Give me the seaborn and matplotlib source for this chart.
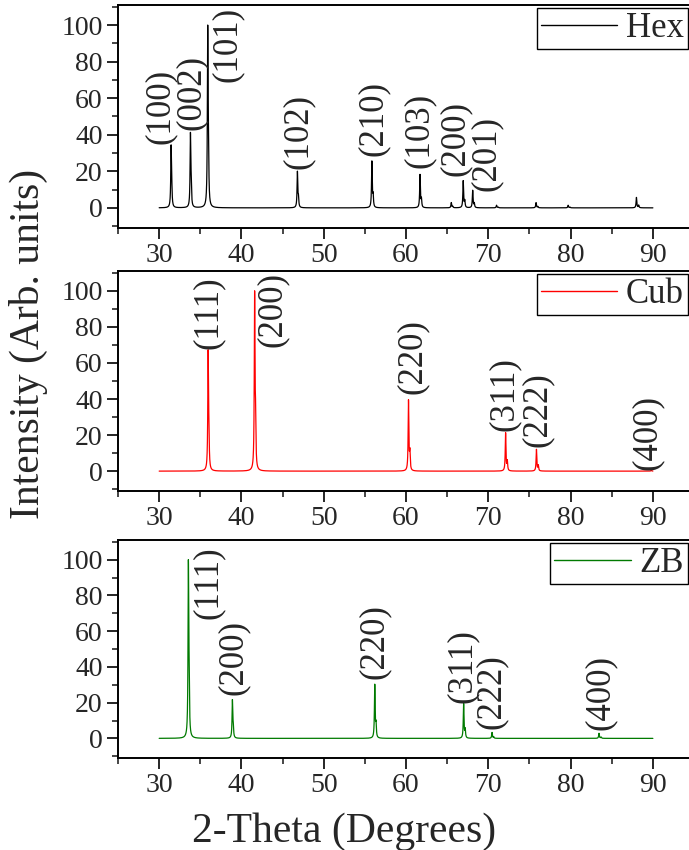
import numpy as np
import pandas as pd
import matplotlib
matplotlib.use("Agg")
import matplotlib.pyplot as plt
from matplotlib.ticker import MultipleLocator
import seaborn as sns

# Reflection positions (2-theta, degrees), relative intensities and Miller indices
hex_pos = [31.45, 33.8, 35.9, 46.8, 55.85, 61.7, 65.5, 66.95, 68.1, 71.0, 75.8, 79.7, 88.0]
hex_int = [34, 41, 100, 20.5, 26.5, 19, 3, 15.5, 10, 1.5, 3, 1.5, 6]
hex_hkl = ["(100)", "(002)", "(101)", "(102)", "(210)", "(103)", "(200)", "(201)"]

cub_pos = [35.95, 41.6, 60.3, 72.1, 75.85, 89.8]
cub_int = [66.5, 100, 40.5, 22, 12.5, 0.5]
cub_hkl = ["(111)", "(200)", "(220)", "(311)", "(222)", "(400)"]

zb_pos = [33.55, 38.9, 56.2, 67.0, 70.45, 83.45]
zb_int = [100, 22, 31.5, 20.5, 3.5, 3]
zb_hkl = ["(111)", "(200)", "(220)", "(311)", "(222)", "(400)"]

# Anchor of each index label (centre x, bottom y) in data units
hex_label_xy = [(30.15, 35), (33.85, 42.5), (38.3, 69), (46.9, 21), (56.0, 28.6),
                (61.6, 22), (66.0, 17.5), (69.7, 9.2)]
cub_label_xy = [(36.0, 68), (43.8, 69), (60.75, 43), (71.9, 22), (75.9, 13.5), (89.3, 0.6)]
zb_label_xy = [(36.0, 67), (39.0, 24), (56.2, 33), (66.9, 20), (70.4, 5.5), (83.6, 4.6)]

two_theta = np.arange(30.0, 90.0001, 0.01)


def pattern(positions, intensities, hwhm=0.05):
    """Sum of Lorentzian Ka1/Ka2 line profiles, scaled so the tallest
    reflection keeps its listed intensity."""
    y = np.zeros_like(two_theta)
    for p, h in zip(positions, intensities):
        shift = np.degrees(2 * np.tan(np.radians(p / 2)) * 0.00248)
        y += h / (1 + ((two_theta - p) / hwhm) ** 2)
        y += 0.25 * h / (1 + ((two_theta - p - shift) / hwhm) ** 2)
    return y / y.max() * max(intensities)


sns.set_style("ticks")
plt.rcParams["font.family"] = ["Liberation Serif", "DejaVu Serif"]

fig = plt.figure(figsize=(6.89, 8.5), dpi=100)

left, width = 0.1713, 0.8360
panels = [
    ("Hex", hex_pos, hex_int, hex_hkl, hex_label_xy, "black", [left, 0.7318, width, 0.2624]),
    ("Cub", cub_pos, cub_int, cub_hkl, cub_label_xy, "#ff0000", [left, 0.4224, width, 0.2588]),
    ("ZB", zb_pos, zb_int, zb_hkl, zb_label_xy, "#007a00", [left, 0.1082, width, 0.2565]),
]

for name, pos, inten, hkl, label_xy, color, rect in panels:
    ax = fig.add_axes(rect)
    df = pd.DataFrame({"2-Theta": two_theta, "Intensity": pattern(pos, inten)})
    sns.lineplot(data=df, x="2-Theta", y="Intensity", ax=ax, color=color,
                 linewidth=0.9, label=name, estimator=None, sort=False)

    for text, (lx, ly) in zip(hkl, label_xy):
        ax.text(lx, ly, text, rotation=90, ha="center", va="bottom", fontsize=25)

    ax.set_xlim(25, 95)
    ax.set_ylim(-11, 111)
    ax.set_xticks(np.arange(30, 91, 10))
    ax.xaxis.set_minor_locator(MultipleLocator(5))
    ax.yaxis.set_major_locator(MultipleLocator(20))
    ax.yaxis.set_minor_locator(MultipleLocator(10))
    ax.tick_params(axis="both", which="major", direction="out", length=8, width=1.4,
                   labelsize=20, pad=3)
    ax.tick_params(axis="both", which="minor", direction="out", length=4.5, width=1.2)
    for side in ["left", "bottom", "top", "right"]:
        ax.spines[side].set_linewidth(1.4)
        ax.spines[side].set_color("black")
    ax.set_xlabel("")
    ax.set_ylabel("")

    leg = ax.legend(loc="upper right", bbox_to_anchor=(0.99, 0.988), fontsize=25,
                    frameon=True, fancybox=False, framealpha=1, edgecolor="black",
                    handlelength=2.2, handletextpad=0.26, borderpad=0.12,
                    borderaxespad=0.0)
    leg.get_frame().set_linewidth(1.0)
    for line in leg.get_lines():
        line.set_linewidth(1.0)

fig.text(0.5, 0.022, "2-Theta (Degrees)", ha="center", va="center", fontsize=30)
fig.text(0.041, 0.595, "Intensity (Arb. units)", ha="center", va="center",
         rotation=90, fontsize=30)

fig.savefig("out.png", dpi=100)
